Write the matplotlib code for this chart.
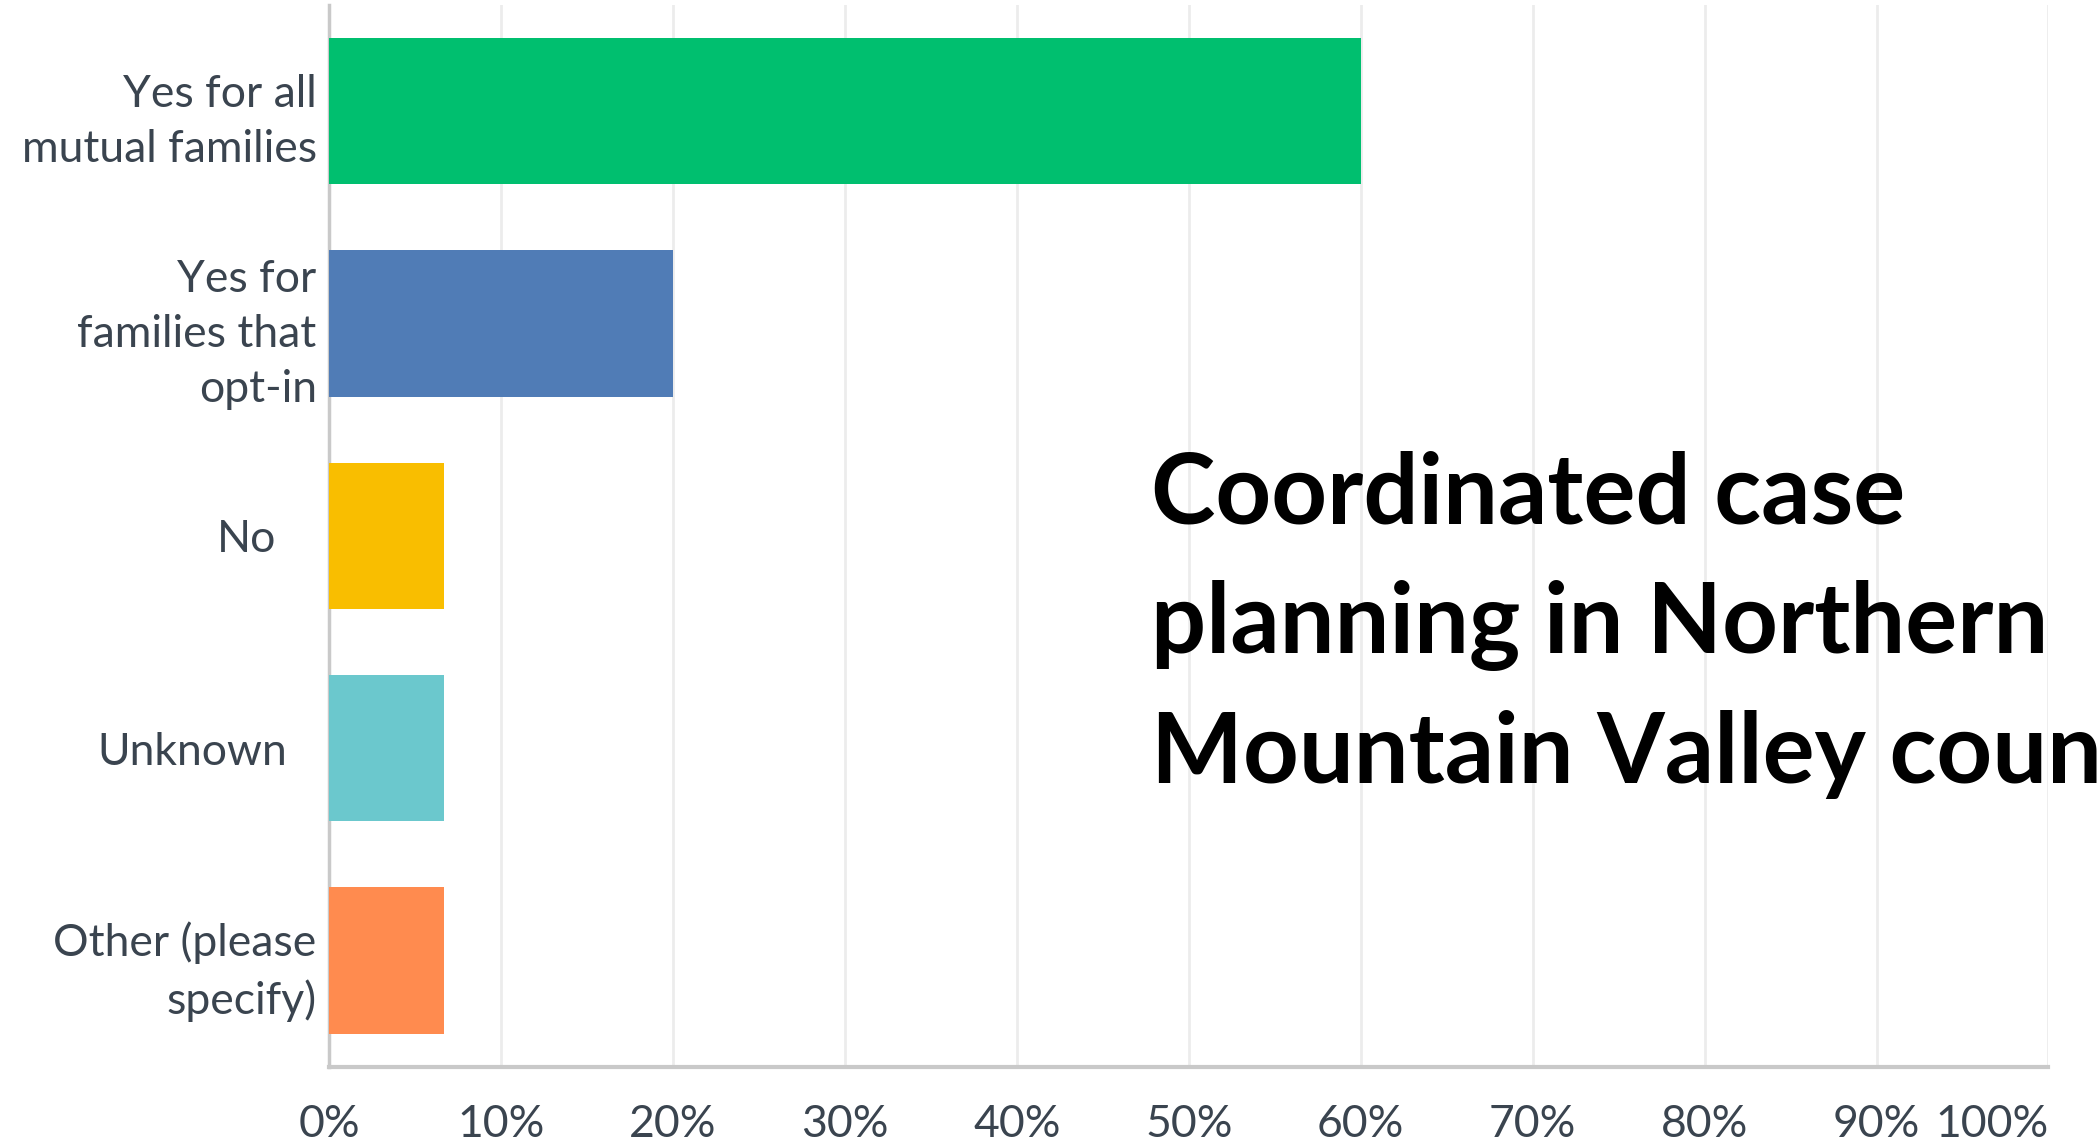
import matplotlib
matplotlib.use("Agg")
import matplotlib.pyplot as plt
import matplotlib.transforms as mtransforms
import numpy as np

# survey answers (share of respondents, %)
answers = ["Yes for all\nmutual families", "Yes for\nfamilies that\nopt-in", "No",
           "Unknown", "Other (please\nspecify)"]
shares = [60.0, 20.0, 6.67, 6.67, 6.67]
bar_colors = ["#00bf6f", "#507cb6", "#f9be00", "#6bc8cd", "#ff8b4f"]
xticks = [0, 10, 20, 30, 40, 50, 60, 70, 80, 90, 100]
xtick_labels = ["%d%%" % t for t in xticks]
title_lines = ["Coordinated case", "planning in Northern", "Mountain Valley counties"]

text_col = "#3a444f"

fig = plt.figure(figsize=(20.98, 11.44), dpi=100)
ax = fig.add_axes([0.1569, 0.0677, 0.9764 - 0.1569, 0.9956 - 0.0677])

y = np.arange(len(answers))
ax.barh(y, shares, height=0.69, color=bar_colors, zorder=3)

ax.set_xlim(0, 100)
ax.set_ylim(4.5, -0.5)
ax.set_xticks(xticks)
ax.set_xticklabels(xtick_labels)
ax.set_yticks(y)
ax.set_yticklabels(answers, linespacing=1.42)

ax.grid(axis="x", color="#ececec", linewidth=2.0, zorder=0)
for side in ["top", "right"]:
    ax.spines[side].set_visible(False)
ax.spines["left"].set_color("#c9c9c9")
ax.spines["left"].set_linewidth(2.5)
ax.spines["bottom"].set_color("#c9c9c9")
ax.spines["bottom"].set_linewidth(3)

ax.tick_params(axis="both", length=0, colors=text_col, labelsize=32)
ax.tick_params(axis="x", pad=27)
ax.tick_params(axis="y", pad=9)
for lab in ax.get_xticklabels() + ax.get_yticklabels():
    lab.set_fontfamily("Lato")
    lab.set_color(text_col)

# last x label is pulled in so it stays inside the image
ax.get_xticklabels()[-1].set_horizontalalignment("right")

# the single-line answers sit a bit left of the others in the original
shift = {"No": -40, "Unknown": -30}
for lab in ax.get_yticklabels():
    if lab.get_text() in shift:
        off = mtransforms.ScaledTranslation(shift[lab.get_text()] / 100.0, 0, fig.dpi_scale_trans)
        lab.set_transform(lab.get_transform() + off)

# big overlaid title, runs off the right edge like the original slide
baselines = [524, 653, 783]
for line, yb in zip(title_lines, baselines):
    fig.text(0.5486, 1 - yb / 1144.0, line, fontsize=70, fontweight="bold",
             fontfamily="Lato", color="black", va="baseline", ha="left")

fig.savefig("out.png", dpi=100)
